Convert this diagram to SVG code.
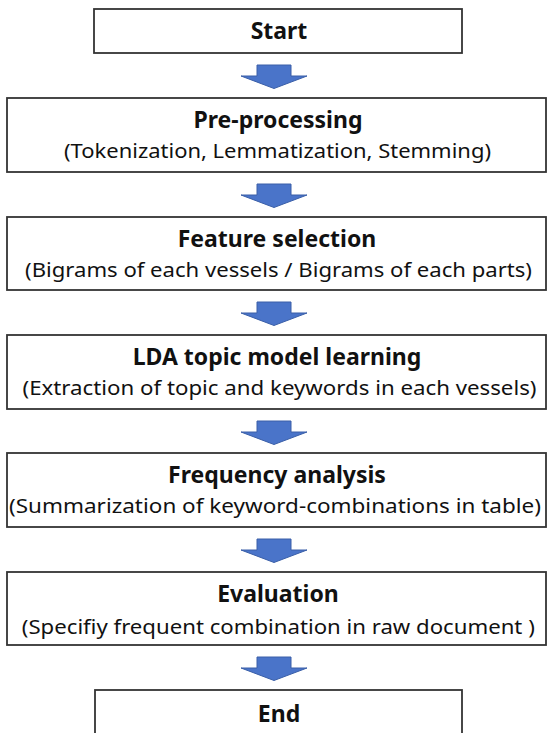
<svg xmlns="http://www.w3.org/2000/svg" width="547" height="733" viewBox="0 0 547 733">
<defs>
<style>
.box{fill:#fff;stroke:#333;stroke-width:1.8}
.t{font-family:"Noto Sans","Open Sans",sans-serif;font-weight:bold;font-size:23px;fill:#111;text-anchor:middle}
.s{font-family:"Noto Sans","Open Sans",sans-serif;font-size:19px;fill:#111;text-anchor:middle}
.arr{fill:#4a74c9;stroke:#3a5fa8;stroke-width:1}
</style>
<path id="a" d="M-17,0 H17 V11 H33 L0,23.5 L-33,11 H-17 Z"/>
</defs>
<rect width="547" height="733" fill="#fff"/>
<g id="connectors">
<use href="#a" class="arr" x="274" y="65"/>
<use href="#a" class="arr" x="274" y="184"/>
<use href="#a" class="arr" x="274" y="302"/>
<use href="#a" class="arr" x="274" y="421"/>
<use href="#a" class="arr" x="274" y="539"/>
<use href="#a" class="arr" x="274" y="657"/>
</g>
<g id="start"><rect class="box" x="94" y="9" width="368" height="44"/><text class="t" x="279" y="39">Start</text></g>
<g id="preprocessing"><rect class="box" x="7" y="98" width="539" height="74"/><text class="t" x="278" y="128">Pre-processing</text><text class="s" x="277.5" y="158" textLength="427" lengthAdjust="spacingAndGlyphs">(Tokenization, Lemmatization, Stemming)</text></g>
<g id="feature"><rect class="box" x="7" y="217" width="539" height="73"/><text class="t" x="277" y="247">Feature selection</text><text class="s" x="278.5" y="277" textLength="507" lengthAdjust="spacingAndGlyphs">(Bigrams of each vessels / Bigrams of each parts)</text></g>
<g id="lda"><rect class="box" x="7" y="335" width="539" height="74"/><text class="t" x="277" y="365">LDA topic model learning</text><text class="s" x="279.5" y="395" textLength="514" lengthAdjust="spacingAndGlyphs">(Extraction of topic and keywords in each vessels)</text></g>
<g id="frequency"><rect class="box" x="7" y="453" width="539" height="74"/><text class="t" x="277" y="483">Frequency analysis</text><text class="s" x="275" y="513" textLength="532" lengthAdjust="spacingAndGlyphs">(Summarization of keyword-combinations in table)</text></g>
<g id="evaluation"><rect class="box" x="7" y="572" width="539" height="73"/><text class="t" x="278" y="602">Evaluation</text><text class="s" x="278.3" y="634" textLength="513" lengthAdjust="spacingAndGlyphs">(Specifiy frequent combination in raw document )</text></g>
<g id="end"><rect class="box" x="95" y="690" width="367" height="50"/><text class="t" x="279" y="722">End</text></g>
</svg>
